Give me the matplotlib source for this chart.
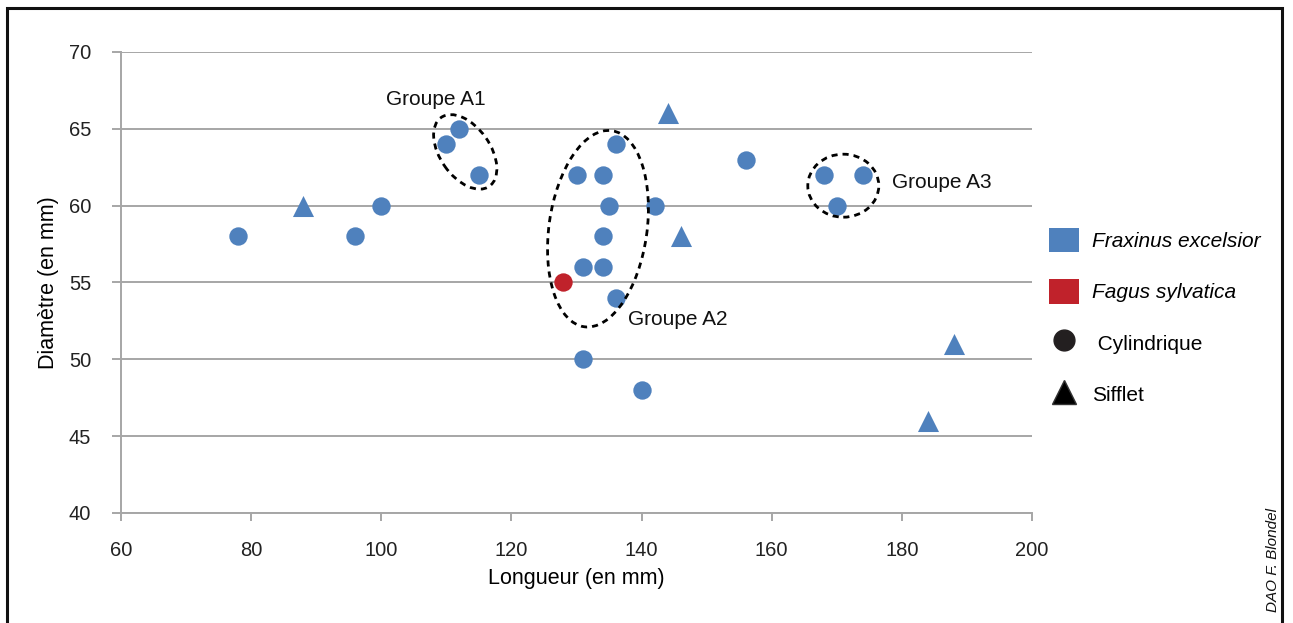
import matplotlib
matplotlib.use('Agg')
import matplotlib.pyplot as plt
from matplotlib.patches import Ellipse, Rectangle, Patch
from matplotlib.lines import Line2D
from matplotlib.transforms import ScaledTranslation

plt.rcParams['font.family'] = ['Liberation Sans', 'DejaVu Sans']

BLUE = '#4F81BD'
RED = '#C0222B'
GRID = '#A6A6A6'

# Fraxinus excelsior, cylindrique
frax_cyl_x = [78, 96, 100, 110, 112, 115, 130, 131, 131, 134, 134, 134, 135, 136, 136, 140, 142, 156, 168, 170, 174]
frax_cyl_y = [58, 58, 60, 64, 65, 62, 62, 56, 50, 62, 58, 56, 60, 64, 54, 48, 60, 63, 62, 60, 62]
# Fraxinus excelsior, sifflet
frax_sif_x = [88, 144, 146, 184, 188]
frax_sif_y = [60, 66, 58, 46, 51]
# Fagus sylvatica, cylindrique
fagus_x = [128]
fagus_y = [55]

# groups: label, text position, ellipse centre (data), size in px, angle
groups = ['Groupe A1', 'Groupe A2', 'Groupe A3']
group_text_xy = [(100.7, 66.9), (137.9, 52.6), (178.5, 61.5)]
group_centre = [(112.9, 63.5), (133.3, 58.5), (171.0, 61.3)]
group_size = [(84, 50), (198, 98), (71, 63)]
group_angle = [-55, 82, 0]

xticks = [60, 80, 100, 120, 140, 160, 180, 200]
yticks = [40, 45, 50, 55, 60, 65, 70]

fig = plt.figure(figsize=(12.93, 6.23), dpi=100)
ax = fig.add_axes([121 / 1293, 1 - 513 / 623, (1032 - 121) / 1293, (513 - 52) / 623])

ax.set_xlim(60, 200)
ax.set_ylim(40, 70)
ax.set_xticks(xticks)
ax.set_yticks(yticks)
ax.grid(axis='y', color=GRID, lw=1.4)
ax.set_axisbelow(True)
for s in ['top', 'right']:
    ax.spines[s].set_visible(False)
for s in ['left', 'bottom']:
    ax.spines[s].set_color(GRID)
    ax.spines[s].set_linewidth(1.4)
ax.tick_params(axis='y', length=6.5, width=1.4, color=GRID, pad=15, labelsize=14.5, labelcolor='#222222')
ax.tick_params(axis='x', length=6, width=1.4, color=GRID, pad=14, labelsize=14.5, labelcolor='#222222')

ax.scatter(frax_cyl_x, frax_cyl_y, s=175, marker='o', color=BLUE, linewidths=0, zorder=3, clip_on=False)
ax.scatter(frax_sif_x, frax_sif_y, s=230, marker='^', color=BLUE, linewidths=0, zorder=3, clip_on=False)
ax.scatter(fagus_x, fagus_y, s=175, marker='o', color=RED, linewidths=0, zorder=3, clip_on=False)

for name, txy, c, (w, h), ang in zip(groups, group_text_xy, group_centre, group_size, group_angle):
    tr = fig.dpi_scale_trans + ScaledTranslation(c[0], c[1], ax.transData)
    ax.add_patch(Ellipse((0, 0), w / 100, h / 100, angle=ang, transform=tr, fill=False,
                         ec='black', lw=2, ls=(0, (2.2, 1.8)), zorder=4, clip_on=False))
    ax.text(txy[0], txy[1], name, fontsize=15, va='center', ha='left', color='#111111')

ax.set_xlabel('Longueur (en mm)', fontsize=15.5, labelpad=6)
ax.set_ylabel('Diamètre (en mm)', fontsize=15.5, labelpad=7)

handles = [
    Patch(facecolor=BLUE, edgecolor='none'),
    Patch(facecolor=RED, edgecolor='none'),
    Line2D([], [], marker='o', color='#231F20', ls='none', markersize=15),
    Line2D([], [], marker='^', color='black', mec='#333333', ls='none', markersize=17),
]
labels = ['Fraxinus excelsior', 'Fagus sylvatica', ' Cylindrique', 'Sifflet']
leg = fig.legend(handles, labels, loc='upper left', bbox_to_anchor=(1030 / 1293, 1 - 209 / 623),
                 frameon=False, fontsize=15, handlelength=1.45, handleheight=1.45,
                 labelspacing=1.28, handletextpad=0.65)
leg.get_texts()[0].set_style('italic')
leg.get_texts()[1].set_style('italic')

fig.text(1273 / 1293, 1 - 560 / 623, 'DAO F. Blondel', rotation=90, style='italic',
         fontsize=11, ha='center', va='center', color='#111111')

fig.add_artist(Rectangle((7 / 1293, -0.1), (1282 - 7) / 1293, 1.1 - 8 / 623,
                         transform=fig.transFigure, fill=False, ec='#111111', lw=2.2))

fig.savefig('out.png', dpi=100)
